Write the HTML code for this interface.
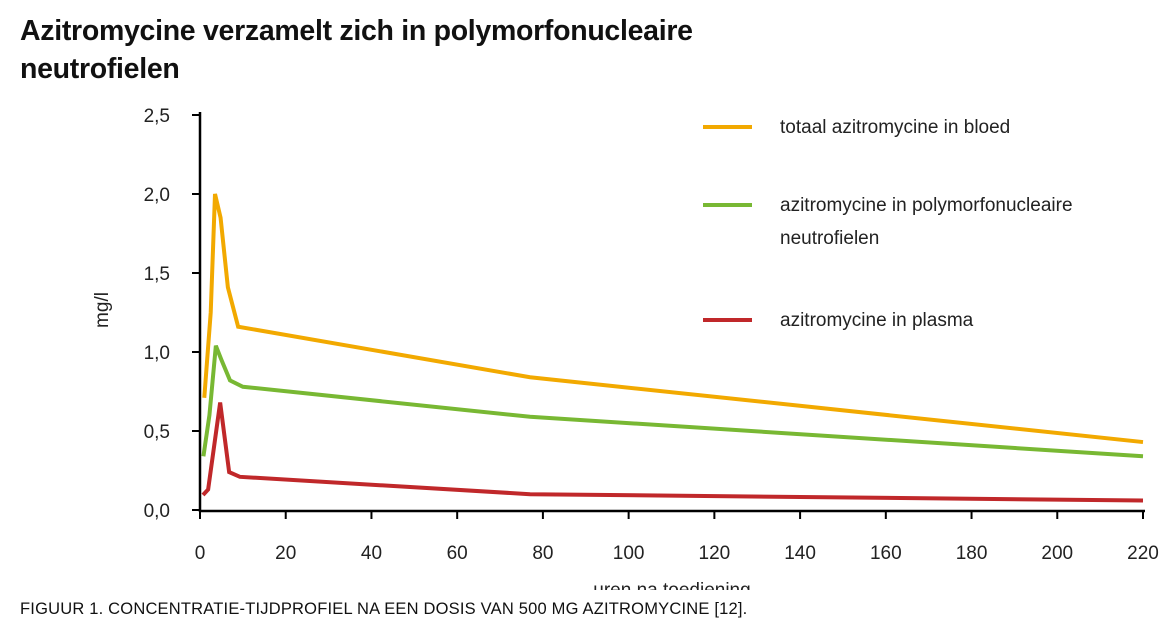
<!DOCTYPE html>
<html><head><meta charset="utf-8"><style>
body{margin:0;background:#fff;font-family:"Liberation Sans",sans-serif;}
#w{position:relative;width:1168px;height:633px;overflow:hidden;background:#fff}
h1{position:absolute;left:20px;top:12px;margin:0;font-size:28.5px;line-height:38px;font-weight:bold;color:#111;letter-spacing:-0.3px}
.cap{position:absolute;left:20px;top:600px;font-size:16.5px;color:#111;font-weight:normal;letter-spacing:0.2px}
</style></head><body>
<div id="w">
<h1>Azitromycine verzamelt zich in polymorfonucleaire<br>neutrofielen</h1>
<svg id="c" width="1168" height="633" style="position:absolute;left:0;top:0"></svg>
<div class="cap">FIGUUR 1. CONCENTRATIE-TIJDPROFIEL NA EEN DOSIS VAN 500 MG AZITROMYCINE [12].</div>
</div>
<script>
const xTicks=[0,20,40,60,80,100,120,140,160,180,200,220];
const yTicks=[0,0.5,1.0,1.5,2.0,2.5];
const yTickLabels=["0,0","0,5","1,0","1,5","2,0","2,5"];
const seriesNames=["totaal azitromycine in bloed","azitromycine in polymorfonucleaire|neutrofielen","azitromycine in plasma"];
const seriesColors=["#f2a900","#78b833","#c0282a"];
const totalT=[1,2.5,3.5,4.8,6.5,8.9,77,220];
const totalV=[0.71,1.25,2.0,1.85,1.41,1.16,0.84,0.43];
const pmnT=[0.8,2.2,3.7,5,7,10,77,220];
const pmnV=[0.34,0.6,1.04,0.95,0.82,0.78,0.59,0.34];
const plasmaT=[0.7,1.9,4.7,6.8,9.3,77,220];
const plasmaV=[0.095,0.13,0.68,0.24,0.21,0.10,0.06];
const svg=document.getElementById('c');const NS='http://www.w3.org/2000/svg';
const X=t=>200+t*(943/220);const Y=v=>510-v*158;
function mk(tag,a,txt){const e=document.createElementNS(NS,tag);for(const k in a)e.setAttribute(k,a[k]);if(txt!==undefined)e.textContent=txt;svg.appendChild(e);return e;}
let e=mk('line',{x1:200,y1:112,x2:200,y2:512,stroke:'#000','stroke-width':2.5});

e=mk('line',{x1:199,y1:511,x2:1145,y2:511,stroke:'#000','stroke-width':2.5});

yTicks.forEach((v,i)=>{
 e=mk('line',{x1:192,y1:Y(v),x2:200,y2:Y(v),stroke:'#000','stroke-width':2});
 
 e=mk('text',{x:170,y:Y(v)+7,'text-anchor':'end','font-size':19,fill:'#222'},yTickLabels[i]);
 
});
xTicks.forEach(t=>{
 e=mk('line',{x1:X(t),y1:511,x2:X(t),y2:519,stroke:'#000','stroke-width':2});
 
 e=mk('text',{x:X(t),y:559,'text-anchor':'middle','font-size':19,fill:'#222'},String(t));
 
});
e=mk('text',{x:0,y:0,transform:'translate(108,310) rotate(-90)','text-anchor':'middle','font-size':19,fill:'#222'},'mg/l');

e=mk('text',{x:672,y:596,'text-anchor':'middle','font-size':19,fill:'#222'},'uren na toediening');

e=mk('rect',{x:500,y:590,width:400,height:30,fill:'#fff'});

const data=[[totalT,totalV],[pmnT,pmnV],[plasmaT,plasmaV]];
const legY=[127,205,320];
data.forEach((d,s)=>{
 const pts=d[0].map((t,i)=>X(t)+','+Y(d[1][i])).join(' ');
 e=mk('polyline',{points:pts,fill:'none',stroke:seriesColors[s],'stroke-width':4,'stroke-linejoin':'miter'});
 
 e=mk('line',{x1:703,y1:legY[s],x2:752,y2:legY[s],stroke:seriesColors[s],'stroke-width':4});
 
 seriesNames[s].split('|').forEach((ln,j)=>{
  e=mk('text',{x:780,y:legY[s]+6+j*33,'font-size':19,fill:'#222'},ln);
  
 });
});
</script>
</body></html>
